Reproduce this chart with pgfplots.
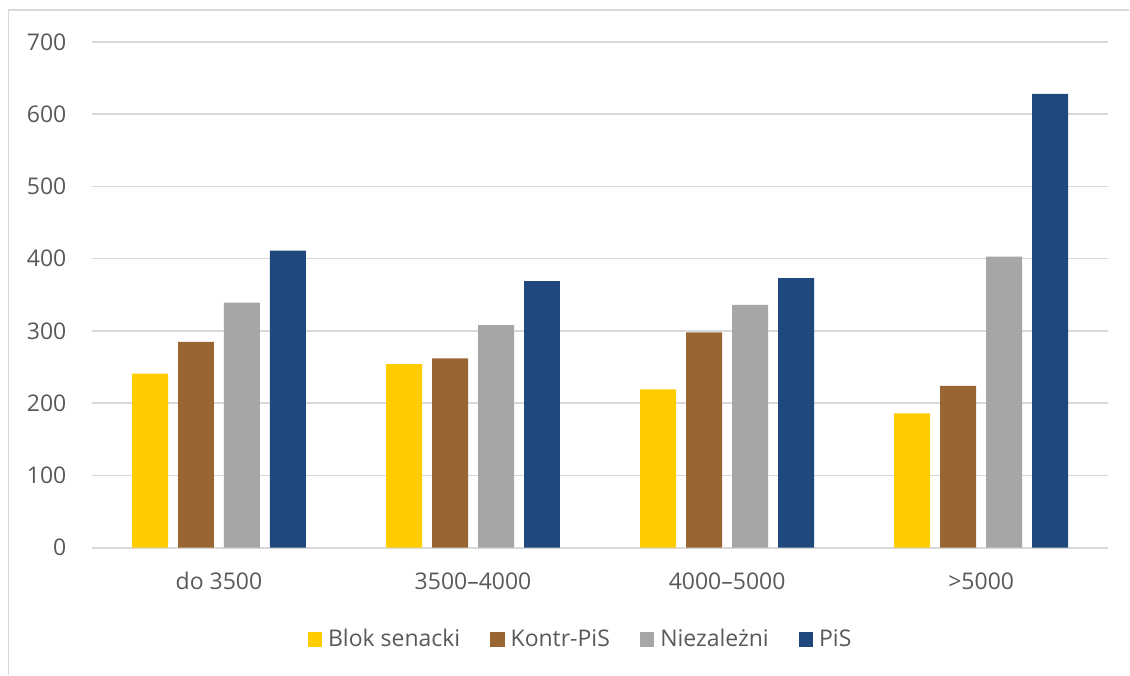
\documentclass[border=0pt]{standalone}
\usepackage{fontspec}
\setmainfont{Open Sans}
\usepackage{pgfplots}
\pgfplotsset{compat=1.18}

\definecolor{cYellow}{HTML}{FFCC00}
\definecolor{cBrown}{HTML}{996633}
\definecolor{cGray}{HTML}{A6A6A6}
\definecolor{cBlue}{HTML}{1F497D}
\definecolor{gridgray}{HTML}{D9D9D9}
\definecolor{textgray}{HTML}{595959}

\begin{document}
\begin{tikzpicture}[x=0.5pt,y=0.5pt]
  % canvas and outer frame (1 unit = one pixel of the 1130x675 chart)
  \fill[white] (0,0) rectangle (1130,675);
  \draw[gridgray, line width=0.8pt] (8.5,0) -- (8.5,665) -- (1130,665);

  \begin{axis}[
    at={(46pt,63.5pt)}, anchor=south west,
    scale only axis,
    width=508.5pt, height=253pt,
    ybar=5pt, bar width=18pt,
    xmin=-0.5, xmax=3.5,
    ymin=0, ymax=700,
    ytick distance=100,
    xtick={0,1,2,3},
    xticklabels={do 3500, 3500–4000, 4000–5000, >5000},
    major tick length=0pt,
    axis x line*=bottom,
    axis y line*=left,
    x axis line style={gridgray, line width=0.9pt, -},
    y axis line style={draw=none},
    ymajorgrids,
    grid style={gridgray, line width=0.8pt},
    tick label style={font=\fontsize{11.5}{13}\selectfont, text=textgray},
    /pgf/number format/assume math mode=true,
    yticklabel style={anchor=east, inner sep=0pt, xshift=-12.6pt},
    xticklabel style={anchor=base, inner sep=0pt, yshift=-21pt},
    legend style={
      at={(0.4798,-0.182)}, anchor=center,
      draw=none, fill=none,
      legend columns=4,
      font=\fontsize{11.5}{13}\selectfont,
      text=textgray,
      nodes={inner sep=0pt},
      /tikz/every odd column/.append style={column sep=3pt},
      /tikz/every even column/.append style={column sep=15pt},
    },
    legend image code/.code={
      \fill[#1] (0pt,-3.6pt) rectangle (7.2pt,3.6pt);
    },
  ]
    \addplot[fill=cYellow, draw=none] coordinates {(0,241) (1,254) (2,219) (3,186)};
    \addplot[fill=cBrown,  draw=none] coordinates {(0,285) (1,262) (2,298) (3,224)};
    \addplot[fill=cGray,   draw=none] coordinates {(0,339) (1,308) (2,336) (3,403)};
    \addplot[fill=cBlue,   draw=none] coordinates {(0,411) (1,369) (2,373) (3,628)};
    \legend{Blok senacki, Kontr-PiS, Niezależni, PiS}
  \end{axis}
\end{tikzpicture}
\end{document}
